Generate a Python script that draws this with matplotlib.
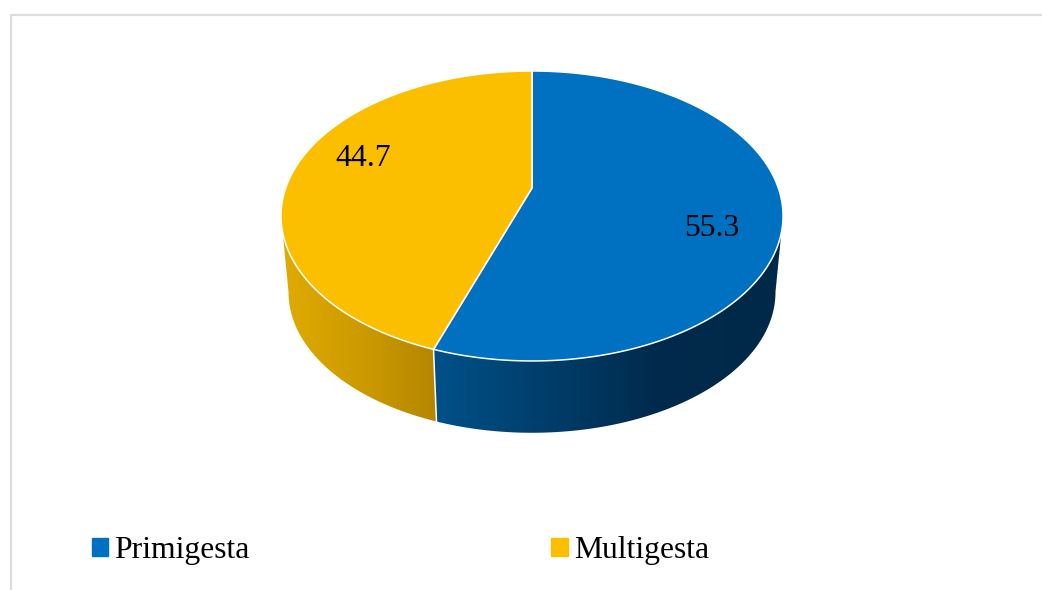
import numpy as np
import matplotlib
matplotlib.use("Agg")
import matplotlib.pyplot as plt
from matplotlib.patches import Patch, Polygon

labels = ["Primigesta", "Multigesta"]
shares = [55.3, 44.7]

colors = ["#0070C0", "#FBBF00"]
wall_stops = [[(0, 82, 138), (0, 42, 76), (0, 40, 72)],
              [(226, 172, 0), (205, 155, 0), (178, 132, 0)]]
wall_pos = [[0, 0.64, 1], [0, 0.5, 1]]

plt.rcParams["font.family"] = ["Liberation Serif", "DejaVu Serif"]

fig = plt.figure(figsize=(10.42, 5.9), dpi=100)
ax = fig.add_axes([0, 0, 1, 1])

# tilted disc: seen in perspective, so the centre sits above the middle of the ellipse
cx, cy = 532, 188
k, a, c = 0.193, -103.3, 246.3
scale_low, y_low = 0.97, 265


def top_edge(deg):
    t = np.radians(deg)
    w = 1 + k * np.sin(t)
    return c * np.cos(t) / w, (a * np.sin(t) + cy) / w


def rim(deg):
    x, y = top_edge(deg)
    return cx + x, y


def low_rim(deg):
    x, y = top_edge(deg)
    return cx + scale_low * x, y_low + scale_low * (y - cy)


# angles of the wedges, clockwise from 12 o'clock
edges = 90 - 360 * np.cumsum([0] + shares) / sum(shares)
split = edges[1]

# side walls: a horizontal gradient clipped to the shape of each wall
ranges = [(split, -11), (-169, split)]
spans = [(437, 781), (283, 437)]
for i in range(2):
    d0, d1 = ranges[i]
    deg = np.linspace(d0, d1, 200)
    lx, ly = low_rim(deg)
    tx, ty = rim(np.array([d1, d0]))
    outline = np.column_stack([np.r_[lx, tx], np.r_[ly, ty]])
    stops = np.array(wall_stops[i]) / 255
    pos = np.linspace(0, 1, 256)
    grad = np.stack([np.interp(pos, wall_pos[i], stops[:, j]) for j in range(3)], axis=-1)
    x0, x1 = spans[i]
    im = ax.imshow(grad[np.newaxis, :, :], extent=(x0 - 8, x1 + 8, 450, 190),
                   aspect="auto", zorder=1)
    im.set_clip_path(Polygon(outline, transform=ax.transData))

# white line between the two walls
ax.plot([rim(split)[0], low_rim(split)[0]], [rim(split)[1], low_rim(split)[1]],
        color="white", lw=1.1, zorder=2)

# top of the pie
for i in range(len(shares)):
    deg = np.linspace(edges[i], edges[i + 1], 200)
    x, y = rim(deg)
    ax.fill(np.r_[cx, x], np.r_[cy, y], facecolor=colors[i], edgecolor="white",
            lw=1.1, joinstyle="round", zorder=3)

ax.text(712, 228, str(shares[0]), fontsize=22.8, ha="center", va="center", zorder=4)
ax.text(363, 159, str(shares[1]), fontsize=22.8, ha="center", va="center", zorder=4)

# chart border, only top and left are in the crop
ax.plot([10.5, 10.5, 1042], [590, 14.5, 14.5], color="#DCDCDC", lw=1.6, zorder=0)

handles = [Patch(color=col) for col in colors]
ax.legend(handles, labels, ncol=2, fontsize=22.8, frameon=False, loc="lower left",
          bbox_to_anchor=(92, 565), bbox_transform=ax.transData, borderpad=0,
          borderaxespad=0, handlelength=0.52, handleheight=0.52, handletextpad=0.19,
          columnspacing=9.52, labelspacing=0)

ax.set_xlim(0, 1042)
ax.set_ylim(590, 0)
ax.axis("off")

fig.savefig("out.png", dpi=100)
